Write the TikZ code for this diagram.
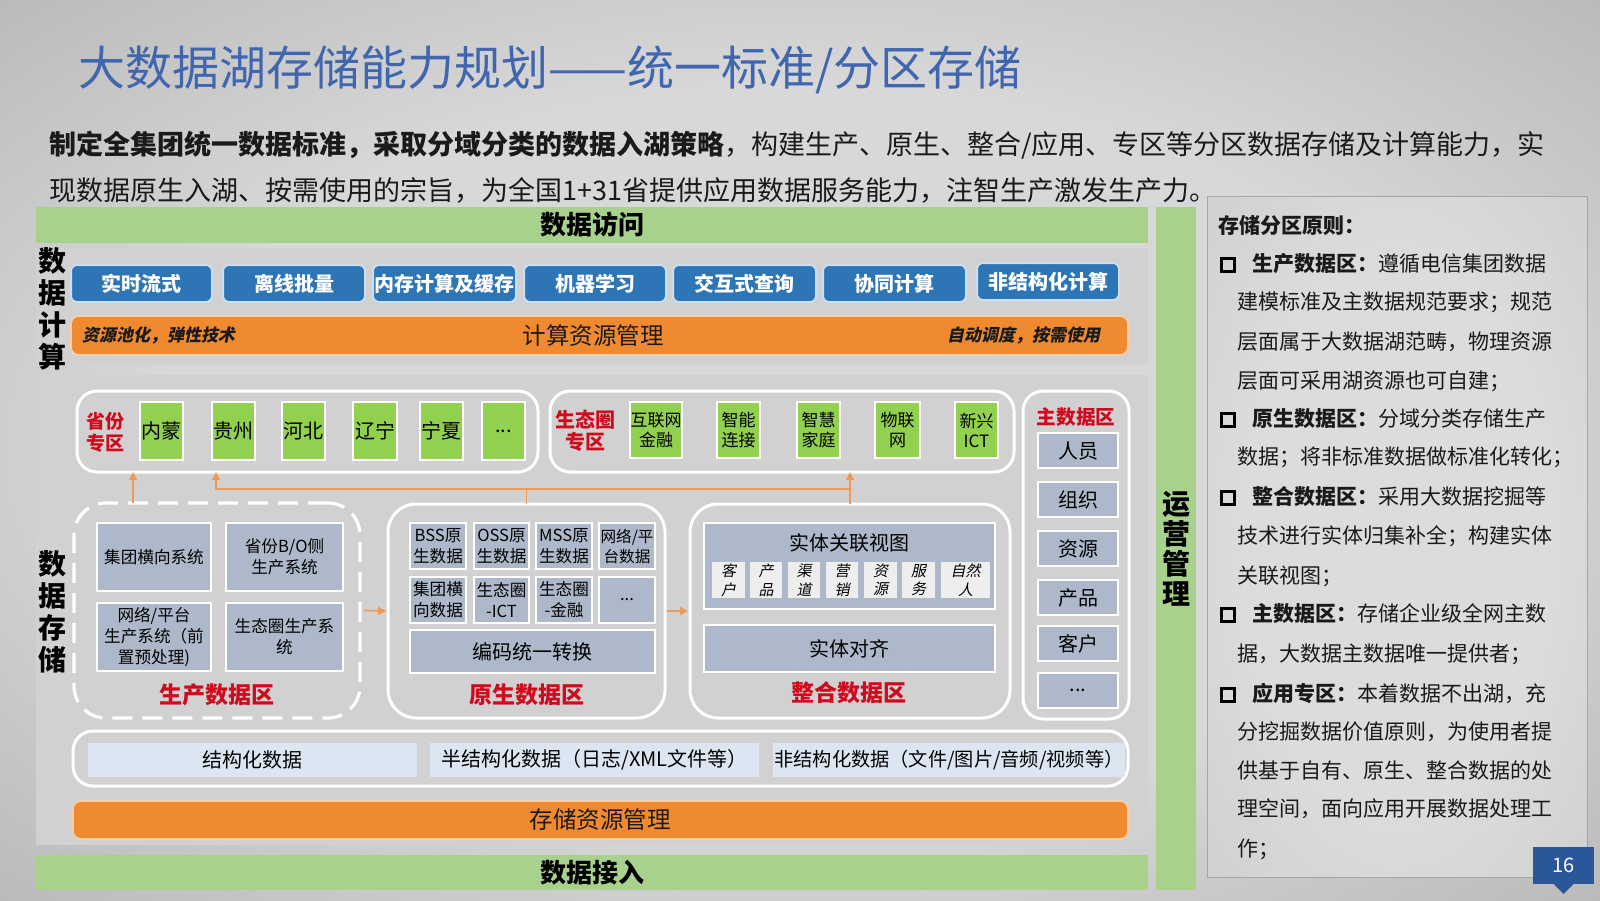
\documentclass[tikz,border=0pt]{standalone}
\usepackage{fontspec}
\setmainfont{Noto Sans CJK SC}
\newfontfamily\slfont{Noto Sans CJK SC}[FakeSlant=0.2]
\usetikzlibrary{arrows.meta}
\definecolor{bgin}{HTML}{D8D8D8}
\definecolor{bgout}{HTML}{A2A2A2}
\definecolor{pin}{HTML}{DCDCDC}
\definecolor{pout}{HTML}{BEBEBE}
\definecolor{titleblue}{HTML}{3F66AE}
\definecolor{txtc}{HTML}{1A1A1A}
\definecolor{barg}{HTML}{A9D18E}
\definecolor{btnblue}{HTML}{2E75B6}
\definecolor{btnbd}{HTML}{C9DEF2}
\definecolor{orng}{HTML}{F08A30}
\definecolor{orngbd}{HTML}{F9CFA8}
\definecolor{grn}{HTML}{92D050}
\definecolor{cellc}{HTML}{ADB9CA}
\definecolor{redc}{HTML}{D00A1E}
\definecolor{dtc}{HTML}{DCE6F2}
\definecolor{panelc}{HTML}{D1D1D1}
\definecolor{arrc}{HTML}{EE9957}
\definecolor{pnblue}{HTML}{2B579A}
\definecolor{smallc}{HTML}{EEEEEE}
\pgfdeclareradialshading{bgsh}{\pgfpoint{0bp}{0bp}}{color(0bp)=(bgin); color(20bp)=(bgin); color(48bp)=(bgout); color(75bp)=(bgout)}
\pgfdeclareradialshading{psh}{\pgfpoint{0bp}{0bp}}{color(0bp)=(pin); color(20bp)=(pin); color(60bp)=(pout); color(75bp)=(pout)}
\newcommand\fs[2]{\fontsize{#1}{#2}\selectfont}
\newcommand\bx[7]{\node[#6,minimum width={(#4-#2)*0.5pt},minimum height={(#5-#3)*0.5pt}] (#1) at ({(#2+#4)/2},{(#3+#5)/2}) {#7};}
\begin{document}
\begin{tikzpicture}[x=0.5pt,y=-0.5pt,
  base/.style={inner sep=0pt, outer sep=0pt, align=center},
  greenbar/.style={base, fill=barg, font=\bfseries\fs{13}{15}},
  panel/.style={base, fill=panelc},
  btn/.style={base, fill=btnblue, draw=btnbd, line width=1pt, rounded corners=3pt, text=white, font=\bfseries\fs{10}{12}},
  orangebar/.style={base, fill=orng, draw=orngbd, line width=0.8pt, rounded corners=4pt},
  zone/.style={base, draw=white, line width=1.5pt, rounded corners=10pt},
  dzone/.style={base, draw=white, line width=1.6pt, rounded corners=16pt, dash pattern=on 10pt off 5pt},
  gbox/.style={base, fill=grn, draw=white, line width=1pt, font=\fs{10}{11}},
  ebox/.style={base, fill=grn, draw=white, line width=1pt, font=\fs{8.5}{10}},
  cell/.style={base, fill=cellc, draw=white, line width=1pt, font=\fs{8.3}{10.5}},
  bcell/.style={base, fill=cellc, draw=white, line width=1pt, font=\fs{10}{12}},
  scell/.style={base, fill=smallc, font=\slfont\fs{7.5}{9.3}},
  dcell/.style={base, fill=dtc, font=\fs{10}{12}},
  lbl/.style={base, text=redc, font=\bfseries\fs{11.5}{13}},
  slbl/.style={base, text=redc, font=\bfseries\fs{9.8}{11}},
  vlab/.style={base, font=\bfseries\fs{14}{16}},
  conn/.style={draw=arrc, line width=0.8pt},
  arr/.style={conn, -{Triangle[length=4pt,width=4pt]}},
  sq/.style={base, draw=black, line width=1.5pt, minimum size=6.3pt},
  ptxt/.style={inner sep=0pt, anchor=west, font=\fs{10.5}{12}, text=txtc, text height=8.5pt, text depth=2pt}
]
\useasboundingbox (0,0) rectangle (1600,900);
\shade[shading=bgsh] (0,0) rectangle (1600,900);

% title and intro
\node[inner sep=0pt, anchor=west, font=\fs{23.5}{28}, text=titleblue] (title) at (78,70) {大数据湖存储能力规划——统一标准/分区存储};
\node[inner sep=0pt, anchor=west, font=\fs{13.5}{16}, text=txtc] (intro1) at (49,145) {{\bfseries 制定全集团统一数据标准，采取分域分类的数据入湖策略}，构建生产、原生、整合/应用、专区等分区数据存储及计算能力，实};
\node[inner sep=0pt, anchor=west, font=\fs{13.5}{16}, text=txtc] (intro2) at (49,190) {现数据原生入湖、按需使用的宗旨，为全国1+31省提供应用数据服务能力，注智生产激发生产力。};

% green bars
\bx{acc}{36}{207}{1148}{243}{greenbar}{数据访问}
\bx{ops}{1156}{207}{1196}{890}{greenbar, font=\bfseries\fs{14}{15}}{运\\营\\管\\理}
\bx{ing}{36}{855}{1148}{890}{greenbar}{数据接入}

% compute panel
\bx{cpanel}{36}{248}{1148}{365}{panel}{}
\node[vlab] (vcalc) at (52,309) {数\\据\\计\\算};
\bx{b1}{71}{265}{212}{302}{btn}{实时流式}
\bx{b2}{223}{265}{365}{302}{btn}{离线批量}
\bx{b3}{373}{265}{516}{302}{btn}{内存计算及缓存}
\bx{b4}{524}{265}{666}{302}{btn}{机器学习}
\bx{b5}{673}{265}{816}{302}{btn}{交互式查询}
\bx{b6}{823}{265}{966}{302}{btn}{协同计算}
\bx{b7}{977}{263}{1119}{300}{btn}{非结构化计算}
\bx{cres}{71}{316}{1128}{355}{orangebar}{}
\node[base, font=\fs{11.75}{13}, text=txtc] (crest) at (593,336) {计算资源管理};
\node[base, anchor=west, font=\slfont\bfseries\fs{8.5}{10}, text=txtc] (cresl) at (82,335) {资源池化，弹性技术};
\node[base, anchor=east, font=\slfont\bfseries\fs{8.5}{10}, text=txtc] (cresr) at (1100,335) {自动调度，按需使用};

% storage panel
\bx{spanel}{36}{375}{1148}{845}{panel}{}
\node[vlab] (vstore) at (52,612) {数\\据\\存\\储};

% province zone
\bx{prov}{77}{391}{538}{472}{zone}{}
\node[slbl, font=\bfseries\fs{9.5}{11}] (provl) at (105,432) {省份\\专区};
\bx{p1}{140}{402}{183}{460}{gbox}{内蒙}
\bx{p2}{212}{402}{255}{460}{gbox}{贵州}
\bx{p3}{282}{402}{325}{460}{gbox}{河北}
\bx{p4}{353}{402}{397}{460}{gbox}{辽宁}
\bx{p5}{420}{402}{463}{460}{gbox}{宁夏}
\bx{p6}{482}{402}{525}{460}{gbox}{...}

% eco zone
\bx{eco}{550}{391}{1014}{472}{zone}{}
\node[slbl, font=\bfseries\fs{10}{11}] (ecol) at (585,431) {生态圈\\专区};
\bx{e1}{630}{402}{682}{458}{ebox}{互联网\\金融}
\bx{e2}{717}{402}{760}{458}{ebox}{智能\\连接}
\bx{e3}{797}{402}{840}{458}{ebox}{智慧\\家庭}
\bx{e4}{875}{402}{920}{458}{ebox}{物联\\网}
\bx{e5}{955}{402}{998}{458}{ebox}{新兴\\ICT}

% master data zone
\bx{mast}{1023}{391}{1129}{719}{zone}{}
\node[slbl] (mastl) at (1076,417) {主数据区};
\bx{m1}{1038}{433}{1118}{468}{bcell}{人员}
\bx{m2}{1038}{482}{1118}{517}{bcell}{组织}
\bx{m3}{1038}{531}{1118}{566}{bcell}{资源}
\bx{m4}{1038}{580}{1118}{615}{bcell}{产品}
\bx{m5}{1038}{626}{1118}{661}{bcell}{客户}
\bx{m6}{1038}{673}{1118}{708}{bcell}{...}

% production zone
\bx{prod}{74}{503}{360}{718}{dzone}{}
\bx{c1}{97}{523}{211}{591}{cell}{集团横向系统}
\bx{c2}{226}{523}{343}{591}{cell}{省份B/O侧\\生产系统}
\bx{c3}{97}{603}{211}{671}{cell}{网络/平台\\生产系统（前\\置预处理)}
\bx{c4}{226}{603}{343}{671}{cell}{生态圈生产系\\统}
\node[lbl] (prodl) at (217,695) {生产数据区};

% raw zone
\bx{raw}{388}{504}{665}{718}{zone, rounded corners=14pt}{}
\bx{r1}{410}{523}{466}{569}{cell}{BSS原\\生数据}
\bx{r2}{474}{523}{529}{569}{cell}{OSS原\\生数据}
\bx{r3}{536}{523}{592}{569}{cell}{MSS原\\生数据}
\bx{r4}{599}{523}{655}{569}{cell, font=\fs{7.8}{10}}{网络/平\\台数据}
\bx{r5}{410}{577}{466}{623}{cell}{集团横\\向数据}
\bx{r6}{474}{577}{529}{623}{cell}{生态圈\\-ICT}
\bx{r7}{536}{577}{592}{623}{cell}{生态圈\\-金融}
\bx{r8}{599}{577}{655}{623}{cell}{...}
\bx{r9}{410}{630}{655}{673}{bcell}{编码统一转换}
\node[lbl] (rawl) at (527,695) {原生数据区};

% integration zone
\bx{integ}{690}{504}{1010}{718}{zone, rounded corners=14pt}{}
\bx{view}{704}{523}{995}{609}{bcell}{}
\node[base, font=\fs{10}{12}] (viewt) at (849,543) {实体关联视图};
\bx{s1}{712}{562}{745}{598}{scell}{客\\户}
\bx{s2}{750}{562}{782}{598}{scell}{产\\品}
\bx{s3}{788}{562}{820}{598}{scell}{渠\\道}
\bx{s4}{826}{562}{858}{598}{scell}{营\\销}
\bx{s5}{864}{562}{897}{598}{scell}{资\\源}
\bx{s6}{902}{562}{935}{598}{scell}{服\\务}
\bx{s7}{941}{562}{990}{598}{scell}{自然\\人}
\bx{align}{704}{625}{995}{672}{bcell}{实体对齐}
\node[lbl] (integl) at (849,693) {整合数据区};

% data types
\bx{dtype}{73}{731}{1128}{786}{zone}{}
\bx{d1}{88}{743}{417}{777}{dcell}{结构化数据}
\bx{d2}{430}{743}{759}{777}{dcell}{半结构化数据（日志/XML文件等）}
\bx{d3}{773}{743}{1125}{777}{dcell, font=\fs{9.6}{12}}{非结构化数据（文件/图片/音频/视频等）}

% storage resource management
\bx{sres}{73}{801}{1128}{839}{orangebar}{}
\node[base, font=\fs{11.75}{13}, text=txtc] (srest) at (600,820) {存储资源管理};

% connectors
\coordinate (pA) at (133,0);
\coordinate (pB) at (216,0);
\coordinate (bus) at (0,489);
\draw[arr] (prod.north -| pA) -- (prov.south -| pA);
\draw[arr] (raw.north) -- (raw.north |- bus) -- (pB |- bus) -- (prov.south -| pB);
\draw[conn] (raw.north |- bus) -- (integ.north |- bus);
\draw[arr] (integ.north) -- (eco.south -| integ.north);
\draw[arr] ([xshift=2pt]prod.east) -- ([xshift=-1pt]raw.west);
\draw[arr] ([xshift=1pt]raw.east) -- ([xshift=-1pt]integ.west);

% right text panel
\shade[shading=psh, draw=gray!70, line width=0.5pt] (1207,196) rectangle (1587,877);
\node[ptxt] (t0) at (1218,227) {\bfseries 存储分区原则：};
\node[sq] (q1) at (1228,265) {};
\node[ptxt] (t1) at (1252,265) {{\bfseries 生产数据区：}遵循电信集团数据};
\node[ptxt] (t2) at (1237,303) {建模标准及主数据规范要求；规范};
\node[ptxt] (t3) at (1237,343) {层面属于大数据湖范畴，物理资源};
\node[ptxt] (t4) at (1237,382) {层面可采用湖资源也可自建；};
\node[sq] (q2) at (1228,420) {};
\node[ptxt] (t5) at (1252,420) {{\bfseries 原生数据区：}分域分类存储生产};
\node[ptxt] (t6) at (1237,458) {数据；将非标准数据做标准化转化；};
\node[sq] (q3) at (1228,498) {};
\node[ptxt] (t7) at (1252,498) {{\bfseries 整合数据区：}采用大数据挖掘等};
\node[ptxt] (t8) at (1237,537) {技术进行实体归集补全；构建实体};
\node[ptxt] (t9) at (1237,577) {关联视图；};
\node[sq] (q4) at (1228,615) {};
\node[ptxt] (t10) at (1252,615) {{\bfseries 主数据区：}存储企业级全网主数};
\node[ptxt] (t11) at (1237,655) {据，大数据主数据唯一提供者；};
\node[sq] (q5) at (1228,695) {};
\node[ptxt] (t12) at (1252,695) {{\bfseries 应用专区：}本着数据不出湖，充};
\node[ptxt] (t13) at (1237,733) {分挖掘数据价值原则，为使用者提};
\node[ptxt] (t14) at (1237,772) {供基于自有、原生、整合数据的处};
\node[ptxt] (t15) at (1237,810) {理空间，面向应用开展数据处理工};
\node[ptxt] (t16) at (1237,850) {作；};

% page number
\bx{pg}{1533}{847}{1594}{884}{base, fill=pnblue, text=white, font=\fs{10}{12}}{16}
\fill[pnblue] ([xshift=-5pt]pg.south) -- ([xshift=5pt]pg.south) -- ([yshift=-5pt]pg.south) -- cycle;
\end{tikzpicture}
\end{document}
